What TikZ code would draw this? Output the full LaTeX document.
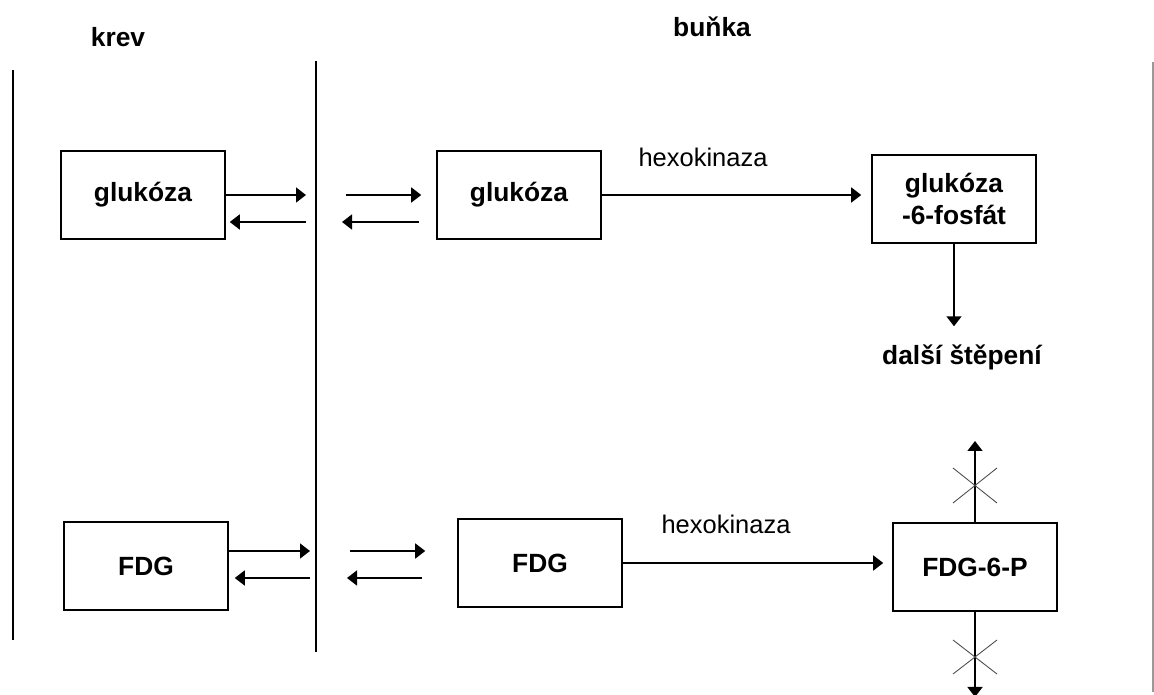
\documentclass[tikz,border=0pt]{standalone}
\usepackage{fontspec}
\setmainfont{Liberation Sans}
\usetikzlibrary{positioning,arrows.meta}
\tikzset{
  box/.style={draw, line width=0.9pt, minimum width=3.28cm, minimum height=1.76cm,
    font=\fontsize{15}{18}\selectfont\bfseries, align=center},
  lbl/.style={font=\fontsize{15}{18}\selectfont\bfseries},
  enz/.style={font=\fontsize{14.5}{17}\selectfont},
  tip/.style={-{Triangle[length=0.2cm,width=0.3cm]}, line width=0.9pt},
  wall/.style={line width=0.9pt},
  xmark/.style={line width=0.5pt, black!70}
}

\begin{document}
\begin{tikzpicture}[x=0.02cm, y=-0.02cm]
      \useasboundingbox (0,0) rectangle (1154,695);
      % Walls
      \draw[wall] (13,70) -- (13,640);
      \draw[wall] (316,61) -- (316,652);
      \draw[wall, black!40] (1153,62) -- (1153,692);
      \node[lbl] (krev) at (118,37) {krev};
      \node[lbl] (bunka) at (712,27) {buňka};
      % Define nodes
      \node[box] (glc)   at (143,195) {glukóza};
      \node[box] (glcin) at (519,195) {glukóza};
      \node[box] (g6p)   at (954,199) {glukóza\\-6-fosfát};
      \node[lbl, below=1.9cm of g6p, xshift=0.16cm] (dalsi) {další štěpení};
      \node[box] (fdg)   at (146,566) {FDG};
      \node[box] (fdgin) at (540,563) {FDG};
      \node[box] (fdgp)  at (975,567) {FDG-6-P};
      \node[enz] (hk1) at (703,157) {hexokinaza};
      \node[enz] (hk2) at (726,524) {hexokinaza};
      \coordinate (a1) at (306,195);
      \coordinate (a2) at (306,222);
      \coordinate (a3) at (346,195);
      \coordinate (a4) at (342,222);
      \coordinate (b1) at (310,551);
      \coordinate (b2) at (310,578);
      \coordinate (b3) at (350,551);
      \coordinate (b4) at (347,578);
      \coordinate (up) at (975,441);
      \coordinate (dn) at (975,697);
      % Connect nodes
      \draw[tip] (glc.east) -- (a1);
      \draw[tip] (a2) -- ([xshift=0.08cm]glc.east |- a2);
      \draw[tip] (a3) -- ([xshift=-0.3cm]glcin.west |- a3);
      \draw[tip] ([xshift=-0.34cm]glcin.west |- a4) -- (a4);
      \draw[tip, shorten >=0.2cm] (glcin.east) -- (g6p.west |- glcin.east);
      \draw[tip, shorten >=0.25cm] (g6p.south) -- (g6p.south |- dalsi.north);
      \draw[tip] (fdg.east |- b1) -- (b1);
      \draw[tip] (b2) -- ([xshift=0.12cm]fdg.east |- b2);
      \draw[tip] (b3) -- ([xshift=-0.64cm]fdgin.west |- b3);
      \draw[tip] ([xshift=-0.7cm]fdgin.west |- b4) -- (b4);
      \draw[tip, shorten >=0.18cm] (fdgin) -- (fdgp.west |- fdgin);
      \draw[tip] (fdgp.north -| up) -- (up);
      \draw[tip] (fdgp.south -| dn) -- (dn);
      % Blocked ways
      \draw[xmark] (953,468) -- (997,503) (953,503) -- (997,468);
      \draw[xmark] (953,640) -- (997,674) (953,674) -- (997,640);
    \end{tikzpicture}
\end{document}
